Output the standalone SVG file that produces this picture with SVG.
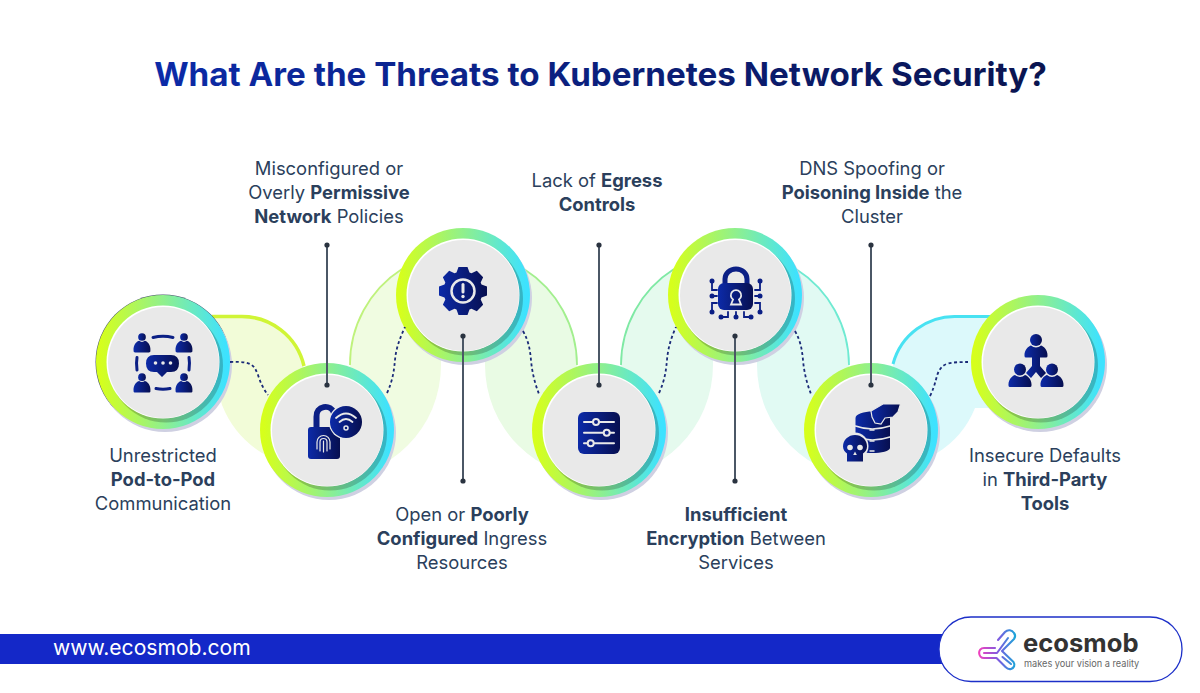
<svg xmlns="http://www.w3.org/2000/svg" width="1200" height="693" viewBox="0 0 1200 693">
<style>
text{font-family:"Inter","Liberation Sans",sans-serif;}
.lbl{font-size:18.4px;fill:#2b3f5c;text-anchor:middle;font-weight:400;}
.lbl tspan.b{font-weight:700;}
.ttl{font-size:33.2px;font-weight:700;text-anchor:middle;fill:url(#tg);}
.ic{fill:url(#ig);}
.icl{fill:none;stroke:#0b1f85;stroke-linecap:round;}
.wl{fill:none;stroke:#e9e9e9;stroke-linecap:round;}
.vl{stroke:#4b5766;stroke-width:2;fill:none;}
.dot{fill:#2a3340;}
.dash{fill:none;stroke:#1a2a78;stroke-width:1.800;stroke-dasharray:3 2.600;}
</style>
<defs>
<linearGradient id="rg" x1="0" x2="1" y1="0" y2="0"><stop offset="0.03" stop-color="#d6ff1c"/><stop offset="0.5" stop-color="#90f08c"/><stop offset="0.97" stop-color="#3de2ff"/></linearGradient>
<linearGradient id="ig" x1="0" x2="1" y1="0" y2="0"><stop offset="0" stop-color="#0c2aa8"/><stop offset="1" stop-color="#070f50"/></linearGradient>
<linearGradient id="tg" gradientUnits="userSpaceOnUse" x1="155" x2="1046" y1="0" y2="0"><stop offset="0" stop-color="#0c2aa8"/><stop offset="1" stop-color="#0a1450"/></linearGradient>
<linearGradient id="lg" gradientUnits="userSpaceOnUse" x1="978" y1="650" x2="1016" y2="650"><stop offset="0" stop-color="#f540bd"/><stop offset="0.55" stop-color="#7a5be0"/><stop offset="1" stop-color="#18a8d8"/></linearGradient>
<g id="ring">
<circle cx="2" cy="3" r="67" fill="#cfd0e2"/>
<circle r="67" fill="url(#rg)"/>
<circle cx="3" cy="3.500" r="57" fill="#000" fill-opacity="0.2"/>
<circle r="56.500" fill="#fff"/>
<circle cx="0.500" cy="0.500" r="55.500" fill="#e9e9e9"/>
</g>
<g id="person"><circle cx="0" cy="-12" r="5.500"/><path d="M-12 8 C-13 -1 -7 -6 -4 -6.500 C-2 -4.500 2 -4.500 4 -6.500 C7 -6 13 -1 12 8 C12 9.500 11 10 10 10 H-10 C-11 10 -12 9.500 -12 8Z"/></g>
<g id="person2"><circle cx="0" cy="-10.500" r="6"/><path d="M-11.500 5.500C-12 -1 -7 -4.500 -5 -5C-2 -2.500 2 -2.500 5 -5C7 -4.500 12 -1 11.500 5.500Q11.500 7 10 7H-10Q-11.500 7 -11.500 5.500Z"/></g>
</defs>

<g id="bands">
<path d="M200 315H240A65 65 0 0 1 305 380L300 470L262 453A100 100 0 0 1 222 405Z" fill="#f2fcd8"/>
<path d="M212 316.500H240A64 64 0 0 1 304 366" fill="none" stroke="#d0f536" stroke-width="3.500"/>
<path d="M350 365A113 113 0 0 1 463 252L441 355V365A114 114 0 0 1 327 479Z" fill="#f0fce1"/>
<path d="M350 365A113 113 0 0 1 402 269" fill="none" stroke="#bff27c" stroke-width="1.800"/>
<path d="M577 365A114 114 0 0 0 463 251L485 355V365A114 114 0 0 0 599 479Z" fill="#e9fbe4"/>
<path d="M577 365A114 114 0 0 0 524 269" fill="none" stroke="#a2ef8e" stroke-width="1.800"/>
<path d="M621 365A114 114 0 0 1 735 251L713 355V365A114 114 0 0 1 599 479Z" fill="#e5faee"/>
<path d="M621 365A114 114 0 0 1 674 269" fill="none" stroke="#7fe9a4" stroke-width="1.800"/>
<path d="M849 365A114 114 0 0 0 735 251L757 355V365A114 114 0 0 0 871 479Z" fill="#e1faf3"/>
<path d="M849 365A114 114 0 0 0 796 269" fill="none" stroke="#6fead2" stroke-width="1.800"/>
<path d="M893 365A65 65 0 0 1 958 315H1000V408H975A95 95 0 0 1 937 453L880 440Z" fill="#dcf9fb"/>
<path d="M893 364A64 64 0 0 1 958 316.500H990" fill="none" stroke="#48e2f2" stroke-width="3"/>
</g>

<text class="ttl" x="600.500" y="86">What Are the Threats to Kubernetes Network Security?</text>

<g id="node1">
<circle cx="163" cy="362" r="67.500" fill="#44506a"/>
<use href="#ring" x="163" y="362"/>
<use href="#person" transform="translate(142 345.400) scale(0.700)" fill="url(#ig)"/>
<use href="#person" transform="translate(184 345.400) scale(0.700)" fill="url(#ig)"/>
<use href="#person" transform="translate(142 385.600) scale(0.700)" fill="url(#ig)"/>
<use href="#person" transform="translate(184 385.600) scale(0.700)" fill="url(#ig)"/>
<path class="ic" d="M154 355H171Q179 355 179 363.500Q179 372 171 372H167L162 377L157 372H154Q146 372 146 363.500Q146 355 154 355Z"/>
<path class="icl" stroke-width="3" d="M153 337.500Q163 335 173 337.500M156 388.500Q163 390 170 388.500M137 357.500Q136 363 137 370M189 357.500Q190 363 189 370"/>
<circle cx="155.500" cy="363" r="1.800" fill="#e9e9e9"/><circle cx="163" cy="363" r="1.800" fill="#e9e9e9"/><circle cx="170.500" cy="363" r="1.800" fill="#e9e9e9"/>
<text class="lbl" x="163" y="462">Unrestricted</text>
<text class="lbl" x="163" y="486"><tspan class="b">Pod-to-Pod</tspan></text>
<text class="lbl" x="163" y="510">Communication</text>
</g>

<g id="node2">
<use href="#ring" x="327" y="430"/>
<path class="icl" stroke-width="6" stroke-linecap="butt" d="M316.500 430V416.500A9 9 0 0 1 334 413"/>
<rect class="ic" x="308" y="427" width="32" height="32" rx="3"/>
<path class="wl" stroke-width="1.200" d="M317 449V442A6.500 6.500 0 0 1 330 442V449M320 451V442A3.500 3.500 0 0 1 327 442V451M323.500 441V452"/>
<circle cx="346" cy="422" r="17.300" fill="#e9e9e9"/>
<circle class="ic" cx="346" cy="422" r="16"/>
<path class="wl" stroke-width="1.800" d="M336 418Q346 409 356 418M339.500 422Q346 416 352.500 422"/>
<circle cx="346" cy="428" r="2" fill="none" stroke="#e9e9e9" stroke-width="1.500"/>
<text class="lbl" x="329" y="175">Misconfigured or</text>
<text class="lbl" x="329" y="199">Overly <tspan class="b">Permissive</tspan></text>
<text class="lbl" x="329" y="223"><tspan class="b">Network</tspan> Policies</text>
</g>

<g id="node3">
<use href="#ring" x="463" y="295"/>
<g transform="translate(463 291)">
<path class="ic" d="M8.480-17.680L13.790-20.150L20.150-13.790L17.680-8.480L18.500-6.500L24-4.500V4.500L18.500 6.500L17.680 8.480L20.150 13.790L13.790 20.150L8.480 17.680L6.500 18.500L4.500 24H-4.500L-6.500 18.500L-8.480 17.680L-13.790 20.150L-20.150 13.790L-17.680 8.480L-18.500 6.500L-24 4.500V-4.500L-18.500-6.500L-17.680-8.480L-20.150-13.790L-13.790-20.150L-8.480-17.680L-6.500-18.500L-4.500-24H4.500L6.500-18.500Z"/>
<circle r="11.500" fill="none" stroke="#e9e9e9" stroke-width="2.500"/>
<path class="wl" stroke-width="3" d="M0-6.500V1"/><circle cy="5.500" r="1.700" fill="#e9e9e9"/>
</g>
<text class="lbl" x="462" y="521">Open or <tspan class="b">Poorly</tspan></text>
<text class="lbl" x="462" y="545"><tspan class="b">Configured</tspan> Ingress</text>
<text class="lbl" x="462" y="569">Resources</text>
</g>

<g id="node4">
<use href="#ring" x="599" y="430"/>
<rect class="ic" x="578" y="412" width="42" height="42" rx="6"/>
<path class="wl" stroke-width="2" d="M584 422H614M584 432.700H614M584 443.300H614"/>
<g fill="#0b1f85" stroke="#e9e9e9" stroke-width="2"><circle cx="596" cy="422" r="3"/><circle cx="606.700" cy="432.700" r="3"/><circle cx="590.700" cy="443.300" r="3"/></g>
<text class="lbl" x="597" y="187">Lack of <tspan class="b">Egress</tspan></text>
<text class="lbl" x="597" y="211"><tspan class="b">Controls</tspan></text>
</g>

<g id="node5">
<use href="#ring" x="735" y="295"/>
<path class="icl" stroke-width="5" d="M725 283V279A11 10 0 0 1 747 279V283"/>
<rect class="ic" x="718" y="283" width="35" height="27" rx="6"/>
<path fill="none" stroke="#e9e9e9" stroke-width="1.800" d="M733 299.500A5.200 5.200 0 1 1 739 299.500L741 304.500H731Z"/>
<path class="icl" stroke-width="1.800" d="M712 281V290H717M712 296H717M712 312V303H717M760 281V290H755M760 296H755M760 312V303H755M721 317H728V312M736 317V312M744 312V317H751"/>
<g fill="#0b1f85"><circle cx="712" cy="281" r="2.500"/><circle cx="712" cy="296" r="2.500"/><circle cx="712" cy="312" r="2.500"/><circle cx="760" cy="281" r="2.500"/><circle cx="760" cy="296" r="2.500"/><circle cx="760" cy="312" r="2.500"/><circle cx="721" cy="317" r="2.500"/><circle cx="736" cy="317" r="2.500"/><circle cx="751" cy="317" r="2.500"/></g>
<text class="lbl" x="736" y="521"><tspan class="b">Insufficient</tspan></text>
<text class="lbl" x="736" y="545"><tspan class="b">Encryption</tspan> Between</text>
<text class="lbl" x="736" y="569">Services</text>
</g>

<g id="node6">
<use href="#ring" x="871" y="430"/>
<path class="ic" d="M855.500 418C855.500 414 864 411.500 872.500 411.500C881 411.500 890 414 890 418V448C890 451 881 453 872.500 453C864 453 855.500 451 855.500 448Z"/>
<path class="wl" stroke-width="1.500" d="M855.500 426Q872 432 890 426M855.500 437Q872 443 890 437"/>
<path class="wl" stroke-width="1.500" d="M870 430H874M870 441H874M870 451H874"/>
<path class="ic" stroke="#e9e9e9" stroke-width="1.200" d="M871 411L883 404H900.500L898 412L893 417L885 418L881 424L875 423L872 417Z"/>
<circle cx="855" cy="446" r="13.500" fill="#e9e9e9"/>
<path class="ic" d="M855 435A12 11.500 0 0 1 867 446.500C867 450 865 452 863 453.500V461.500H847V453.500C845 452 843 450 843 446.500A12 11.500 0 0 1 855 435Z"/>
<circle cx="850" cy="447.500" r="2.800" fill="#e9e9e9"/><circle cx="860" cy="447.500" r="2.800" fill="#e9e9e9"/>
<path d="M855 451.500L856.800 455H853.200Z" fill="#e9e9e9"/>
<text class="lbl" x="872" y="175">DNS Spoofing or</text>
<text class="lbl" x="872" y="199"><tspan class="b">Poisoning Inside</tspan> the</text>
<text class="lbl" x="872" y="223">Cluster</text>
</g>

<g id="node7">
<use href="#ring" x="1038" y="362"/>
<path class="ic" d="M1032 357H1040V366L1046 373L1041 378L1036 372L1031 378L1026 373L1032 366Z"/>
<use href="#person2" transform="translate(1036 350.500)" fill="url(#ig)"/>
<use href="#person2" transform="translate(1020 380)" fill="url(#ig)"/>
<use href="#person2" transform="translate(1052 380)" fill="url(#ig)"/>
<text class="lbl" x="1045" y="462">Insecure Defaults</text>
<text class="lbl" x="1045" y="486">in <tspan class="b">Third-Party</tspan></text>
<text class="lbl" x="1045" y="510"><tspan class="b">Tools</tspan></text>
</g>

<g id="connectors">
<path class="dash" d="M230 362C252 361 254 365 258 375C261 384 264 390 268 395"/>
<path class="dash" d="M387 393C393 380 394 370 395 360C396 348 400 338 405 327"/>
<path class="dash" d="M523 331C529 342 530 350 531 360C532 372 535 384 539 394"/>
<path class="dash" d="M659 393C665 380 666 370 667 360C668 348 671 338 676 327"/>
<path class="dash" d="M795 331C801 342 802 350 803 360C804 372 807 384 811 394"/>
<path class="dash" d="M930 396C936 384 936 376 939 371C943 363 950 362 968 362"/>
<path class="vl" d="M327 245V385M463 336V481M599 245V385M735 336V481M871 245V385"/>
<g class="dot">
<circle cx="327" cy="245" r="2.600"/><circle cx="327" cy="385" r="2.600"/>
<circle cx="463" cy="336" r="2.600"/><circle cx="463" cy="481" r="2.600"/>
<circle cx="599" cy="245" r="2.600"/><circle cx="599" cy="385" r="2.600"/>
<circle cx="735" cy="336" r="2.600"/><circle cx="735" cy="481" r="2.600"/>
<circle cx="871" cy="245" r="2.600"/><circle cx="871" cy="385" r="2.600"/>
</g>
</g>

<g id="footer">
<rect x="0" y="634" width="960" height="30" fill="#1428c8"/>
<text x="53" y="655" font-size="21.100" font-weight="400" fill="#fff">www.ecosmob.com</text>
<rect x="939" y="617" width="243" height="64.500" rx="32" fill="#fff" stroke="#1c2fc8" stroke-width="1.300"/>
<g fill="none" stroke="url(#lg)" stroke-width="2.100" stroke-linecap="round" stroke-linejoin="round">
<path d="M998 640L1005 632C1008 629 1012 630 1014 633C1015.500 635 1015.500 637 1014 639L1002 651L1013.500 662C1015.500 665 1014 668 1011 669C1009 669.500 1007 668.500 1005.500 667L996.500 658H984C978 658 977 648 984 648H995"/>
<path d="M1008 638L997 653H984M1002.500 657L1011 664"/>
</g>
<text x="1023" y="651.500" font-size="25.600" font-weight="700" fill="#333">ecosmob</text>
<text x="1024" y="667" font-size="9.200" fill="#666">makes your vision a reality</text>
</g>
</svg>
